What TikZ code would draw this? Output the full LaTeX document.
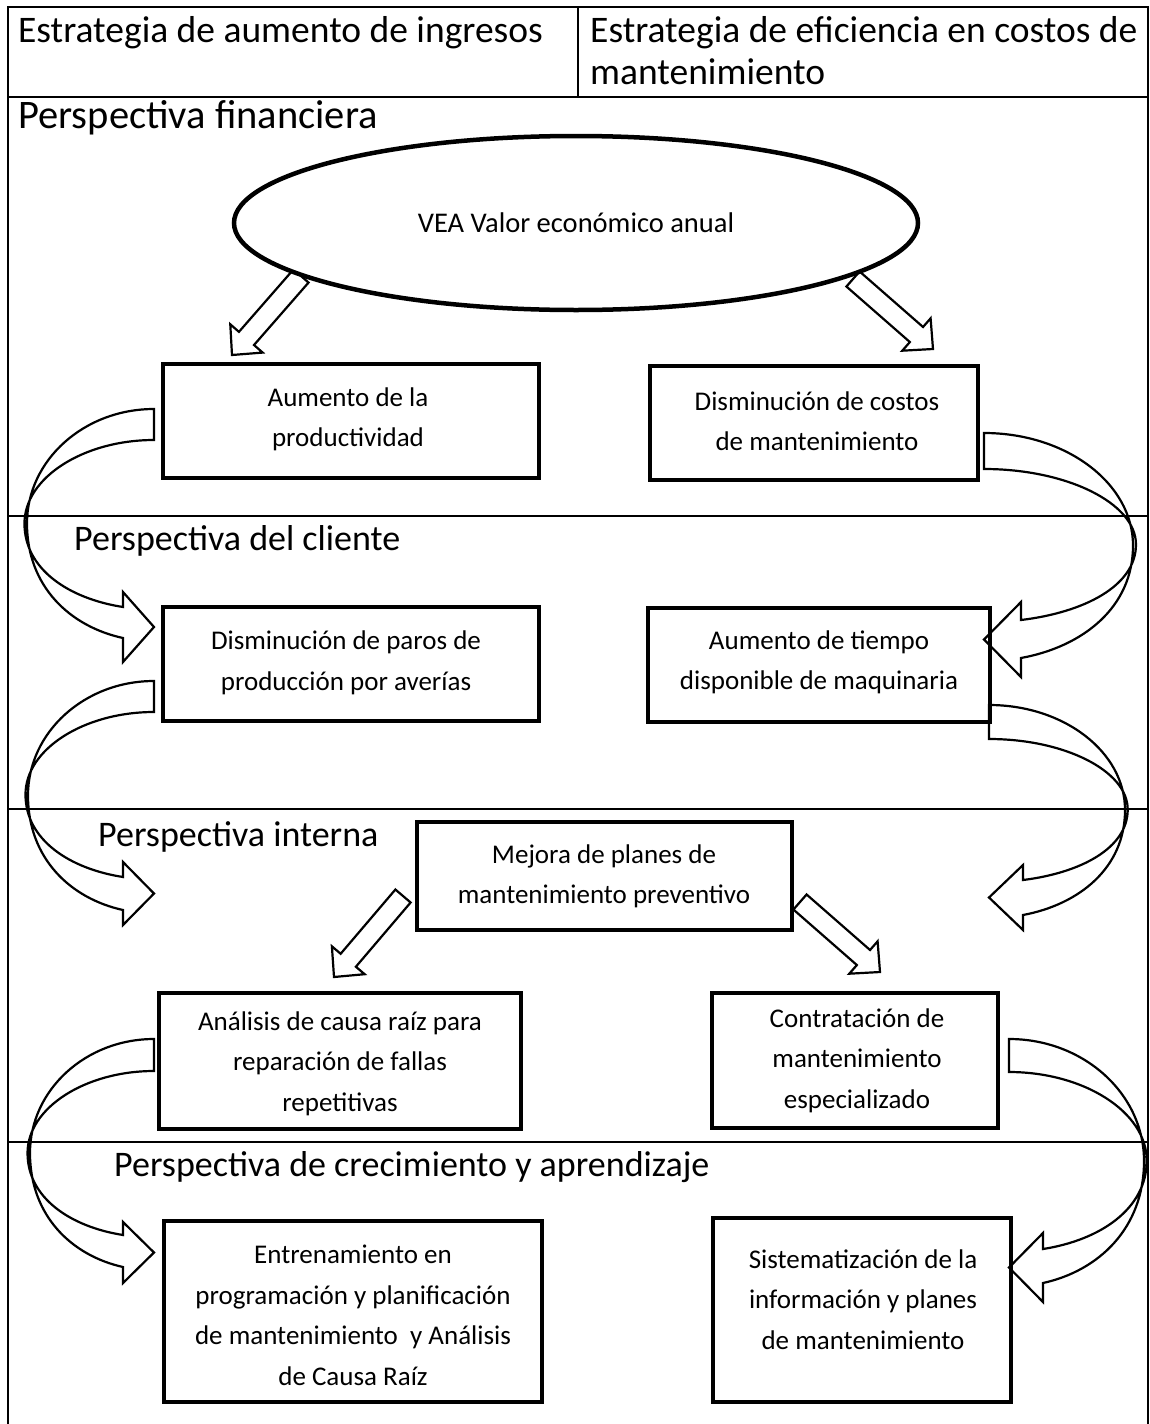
\documentclass[tikz,border=0pt]{standalone}
\usepackage{fontspec}
\setmainfont{Carlito}
\usetikzlibrary{shapes.geometric,calc}
\tikzset{
  tline/.style={line width=2pt},
  boxnode/.style={draw, line width=4.5pt, fill=white, inner sep=0pt},
  btxt/.style={align=center, font=\fontsize{27}{40.5}\selectfont, inner sep=0pt},
  htxt/.style={anchor=base west, font=\fontsize{37.5}{42}\selectfont, inner sep=0pt},
  ftxt/.style={anchor=base west, font=\fontsize{40.5}{44}\selectfont, inner sep=0pt},
  ptxt/.style={anchor=base west, font=\fontsize{36}{42}\selectfont, inner sep=0pt},
  uarr/.style={line width=2.2pt, line join=miter},
  sarr/.style={line width=2.2pt, line join=miter},
}
% U-shaped block arrow: #1 tail x, #2 tail top, #3 tail bottom, #4 head base x,
% #5 head outer top, #6 head inner top, #7 head inner bottom, #8 head outer bottom, #9 extreme x
\newcommand\uarrow[9]{%
\draw[uarr] (#1,#2)
 .. controls ({#1+0.552*(#9-#1)},#2) and (#9,{#2+0.448*((#7-#2)/2)}) .. (#9,{(#2+#7)/2})
 .. controls (#9,{(#2+#7)/2+0.552*((#7-#2)/2)}) and ({#4+0.55*(#9-#4)},{#7-0.1*((#7-#2)/2)}) .. (#4,#7)
 -- (#4,#8) -- (#1,{(#5+#8)/2}) -- (#4,#5) -- (#4,#6)
 .. controls ({#4+0.56*(#9-#4)},{#6-0.1*((#6-#3)/2)}) and ({#9+0.02*(#9-#1)},{(#3+#6)/2+0.552*((#6-#3)/2)}) .. ({#9+0.02*(#9-#1)},{(#3+#6)/2})
 .. controls ({#9+0.02*(#9-#1)},{(#3+#6)/2-0.552*((#6-#3)/2)}) and ({#1+0.552*(#9-#1)},#3) .. (#1,#3)
 -- cycle;}
% straight block arrow from coordinate #1 to coordinate #2
\newcommand\sarrow[2]{%
\coordinate (hb) at ($(#2)!22pt!(#1)$);
\draw[sarr] ($(#1)!10pt!90:(#2)$) -- ($(hb)!10pt!-90:(#1)$) -- ($(hb)!21.5pt!-90:(#1)$)
 -- (#2) -- ($(hb)!21.5pt!90:(#1)$) -- ($(hb)!10pt!90:(#1)$) -- ($(#1)!10pt!-90:(#2)$) -- cycle;}
\begin{document}
\begin{tikzpicture}[x=1pt,y=-1pt]
\useasboundingbox (0,0) rectangle (1150,1424);
\fill[white] (0,0) rectangle (1150,1424);
% table
\draw[tline] (8,1424) -- (8,7) -- (1148,7) -- (1148,1424);
\draw[tline] (578,7) -- (578,97);
\draw[tline] (8,97) -- (1148,97);
\draw[tline] (8,516) -- (1148,516);
\draw[tline] (8,809) -- (1148,809);
\draw[tline] (8,1142) -- (1148,1142);
% headings
\node[htxt] (hA) at (18,42) {Estrategia de aumento de ingresos};
\node[htxt] (hB) at (590,42) {\parbox[t]{560pt}{\raggedright Estrategia de eficiencia en costos de\\mantenimiento}};
\node[ftxt] (pF) at (18,128) {Perspectiva financiera};
\node[ptxt] (pC) at (74,550) {Perspectiva del cliente};
\node[ptxt] (pI) at (98,846) {Perspectiva interna};
\node[ptxt] (pG) at (114,1176) {Perspectiva de crecimiento y aprendizaje};
% arrows from VEA
\coordinate (s1) at (301,276); \coordinate (e1) at (232,355);
\coordinate (s2) at (853,279); \coordinate (e2) at (933,349);
\sarrow{s1}{e1}
\sarrow{s2}{e2}
\node[ellipse, draw, line width=4.5pt, fill=white, minimum width=684pt, minimum height=174pt, inner sep=0pt, font=\fontsize{28.5}{34}\selectfont] (vea) at (576,223) {VEA Valor económico anual};
% boxes
\node[boxnode, minimum width=376pt, minimum height=114pt] (b1) at (351,421) {};
\node[boxnode, minimum width=328pt, minimum height=114pt] (b2) at (814,423) {};
\node[boxnode, minimum width=376pt, minimum height=114pt] (b3) at (351,664) {};
\node[boxnode, minimum width=342pt, minimum height=114pt] (b4) at (819,665) {};
\node[boxnode, minimum width=375pt, minimum height=108pt] (b5) at (604.5,876) {};
\node[boxnode, minimum width=362pt, minimum height=136pt] (b6) at (340,1061) {};
\node[boxnode, minimum width=286pt, minimum height=135pt] (b7) at (855,1060.5) {};
\node[boxnode, minimum width=378pt, minimum height=181pt] (b8) at (353,1311.5) {};
\node[boxnode, minimum width=298pt, minimum height=184pt] (b9) at (862,1310) {};
\node[btxt] (t1) at (348,419.5) {Aumento de la\\productividad};
\node[btxt] (t2) at (817,421) {Disminución de costos\\de mantenimiento};
\node[btxt] (t3) at (346,663) {Disminución de paros de\\producción por averías};
\node[btxt] (t4) at (819,662.5) {Aumento de tiempo\\disponible de maquinaria};
\node[btxt] (t5) at (604,876.5) {Mejora de planes de\\mantenimiento preventivo};
\node[btxt] (t6) at (340,1063.5) {Análisis de causa raíz para\\reparación de fallas\\repetitivas};
\node[btxt] (t7) at (857,1060.5) {Contratación de\\mantenimiento\\especializado};
\node[btxt] (t8) at (353,1315.5) {Entrenamiento en\\programación y planificación\\de mantenimiento\ \ y Análisis\\de Causa Raíz};
\node[btxt] (t9) at (863,1299.5) {Sistematización de la\\información y planes\\de mantenimiento};
% U arrows
\uarrow{154}{409}{440}{123}{592}{607}{638}{662}{27}
\uarrow{154}{681}{712}{123}{862}{877}{910}{925}{28}
\uarrow{154}{1039}{1071}{123}{1222}{1235}{1267}{1283}{30}
\uarrow{984}{433}{469}{1021}{602}{620}{658}{677}{1133}
\uarrow{989}{705}{739}{1023}{865}{880}{915}{930}{1125}
\uarrow{1009}{1039}{1072}{1043}{1233}{1249}{1283}{1302}{1144}
% arrows from Mejora
\coordinate (s3) at (403,896); \coordinate (e3) at (334,977);
\coordinate (s4) at (800,902); \coordinate (e4) at (880,972);
\sarrow{s3}{e3}
\sarrow{s4}{e4}
\end{tikzpicture}
\end{document}
